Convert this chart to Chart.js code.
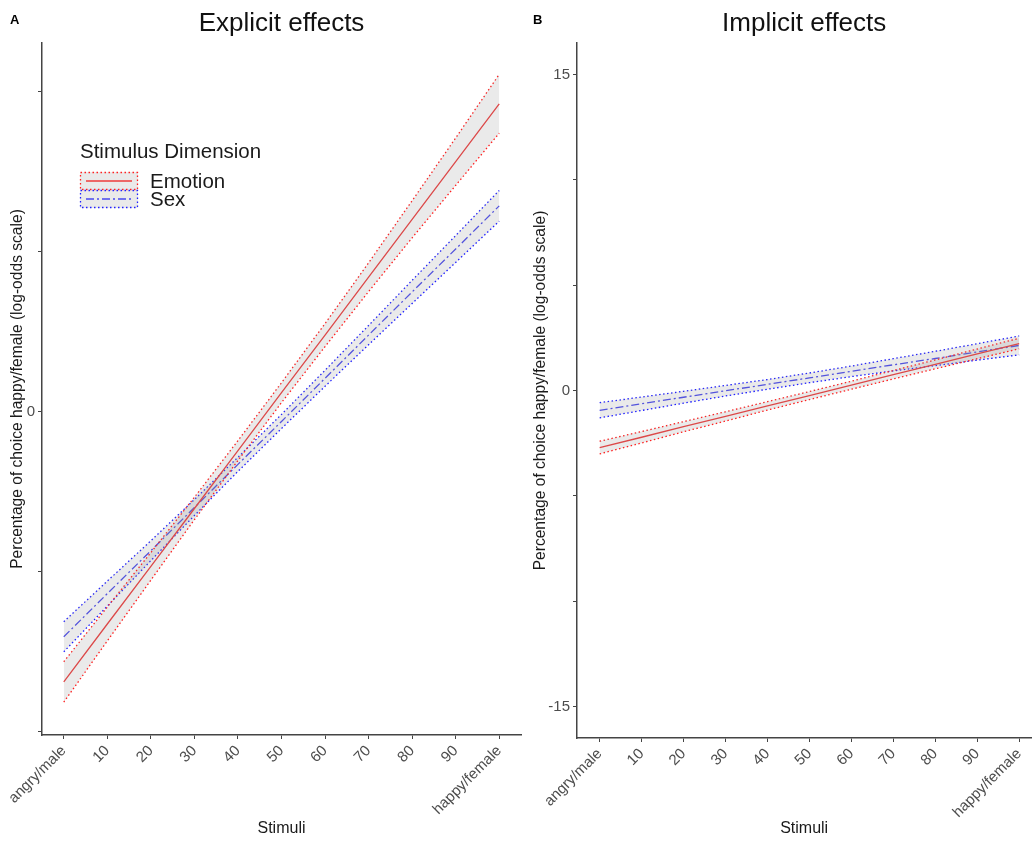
<!DOCTYPE html>
<html>
<head>
<meta charset="utf-8">
<script src="https://cdn.jsdelivr.net/npm/chart.js@4/dist/chart.umd.min.js"></script>
<style>
  body { margin: 0; background: #fff; font-family: "Liberation Sans", Arial, sans-serif; }
  #wrap { position: relative; width: 1035px; height: 842px; overflow: hidden; }
  canvas { position: absolute; top: 0; }
  .tag { position: absolute; top: 12px; font-weight: bold; font-size: 13px; color: #000; }
</style>
</head>
<body>
<div id="wrap">
  <canvas id="left" width="530" height="842" style="left:0"></canvas>
  <canvas id="right" width="505" height="842" style="left:530px"></canvas>
  <div class="tag" style="left:10px">A</div>
  <div class="tag" style="left:533px">B</div>
</div>
<script>
var stimuli = [0, 10, 20, 30, 40, 50, 60, 70, 80, 90, 100];
var stimulusLabels = ['angry/male', '10', '20', '30', '40', '50', '60', '70', '80', '90', 'happy/female'];

// explicit effects (log-odds)
var explicitEmotion = [-8.44, -6.63, -4.83, -3.02, -1.21, 0.60, 2.40, 4.21, 6.02, 7.82, 9.63];
var explicitEmotionLo = [-9.07, -7.16, -5.26, -3.37, -1.52, 0.29, 2.04, 3.76, 5.44, 7.08, 8.71];
var explicitEmotionHi = [-7.81, -6.10, -4.40, -2.67, -0.90, 0.91, 2.76, 4.66, 6.60, 8.56, 10.55];
var explicitSex = [-7.03, -5.68, -4.34, -2.99, -1.64, -0.30, 1.05, 2.40, 3.75, 5.09, 6.44];
var explicitSexLo = [-7.50, -6.07, -4.65, -3.24, -1.86, -0.52, 0.80, 2.10, 3.39, 4.67, 5.96];
var explicitSexHi = [-6.56, -5.29, -4.03, -2.74, -1.42, -0.08, 1.30, 2.70, 4.11, 5.51, 6.92];

// implicit effects (log-odds)
var implicitEmotion = [-2.71, -2.22, -1.72, -1.23, -0.73, -0.24, 0.25, 0.75, 1.24, 1.74, 2.23];
var implicitEmotionLo = [-3.01, -2.49, -1.96, -1.45, -0.93, -0.43, 0.06, 0.55, 1.03, 1.51, 1.98];
var implicitEmotionHi = [-2.41, -1.95, -1.48, -1.01, -0.53, -0.05, 0.44, 0.95, 1.45, 1.97, 2.48];
var implicitSex = [-0.94, -0.63, -0.32, -0.01, 0.29, 0.60, 0.91, 1.22, 1.52, 1.83, 2.14];
var implicitSexLo = [-1.30, -0.95, -0.60, -0.26, 0.06, 0.37, 0.66, 0.93, 1.18, 1.44, 1.69];
var implicitSexHi = [-0.58, -0.31, -0.04, 0.24, 0.52, 0.83, 1.16, 1.51, 1.86, 2.22, 2.59];

var explicitTicks = [-10, -5, 0, 5, 10];
var implicitTicks = [-15, -10, -5, 0, 5, 10, 15];

var FONT = '"Liberation Sans", Arial, sans-serif';
var RED = '#ee3b3b', BLUE = '#4848ee', BAND = 'rgba(140,140,140,0.18)';
var CI_RED = '#ff2020', CI_BLUE = '#2020ff';
var SEX_DASH = [8, 3, 2, 3];

function pts(ys) {
    return stimuli.map(function (x, i) { return { x: x, y: ys[i] }; });
}

function series(fit, lo, hi, color, ciColor, dash) {
    return [
        { data: pts(lo), borderColor: ciColor, borderWidth: 1.3, borderDash: [1.5, 2.5], fill: '+1', backgroundColor: BAND },
        { data: pts(hi), borderColor: ciColor, borderWidth: 1.3, borderDash: [1.5, 2.5], fill: false },
        { data: pts(fit), borderColor: color, borderWidth: 1.3, borderDash: dash, fill: false }
    ];
}

var legendPlugin = {
    id: 'dimLegend',
    afterDatasetsDraw: function (chart) {
        var c = chart.ctx;
        c.save();
        c.fillStyle = '#1a1a1a';
        c.textBaseline = 'middle';
        c.font = '20.5px ' + FONT;
        c.fillText('Stimulus Dimension', 80, 152);
        var keys = [[RED, CI_RED, [], 'Emotion', 172], [BLUE, CI_BLUE, SEX_DASH, 'Sex', 190]];
        keys.forEach(function (k) {
            c.fillStyle = BAND;
            c.fillRect(80, k[4], 58, 18);
            c.setLineDash([1.5, 2.5]);
            c.lineWidth = 1.3;
            c.strokeStyle = k[1];
            c.strokeRect(80.5, k[4] + 0.5, 57, 17);
            c.setLineDash(k[2]);
            c.strokeStyle = k[0];
            c.beginPath();
            c.moveTo(86, k[4] + 9);
            c.lineTo(132, k[4] + 9);
            c.stroke();
            c.setLineDash([]);
            c.fillStyle = '#1a1a1a';
            c.font = '20.5px ' + FONT;
            c.fillText(k[3], 150, k[4] + 10);
        });
        c.restore();
    }
};

function makeChart(id, title, datasets, yMin, yMax, yTicks, yShown, yWidth, xMin, xMax, xHeight, padRight, yTitlePad, plugins) {
    return new Chart(document.getElementById(id).getContext('2d'), {
        type: 'line',
        data: { datasets: datasets },
        plugins: plugins,
        options: {
            responsive: false,
            animation: false,
            layout: { padding: { left: 0, right: padRight, top: 0, bottom: 0 } },
            elements: { point: { radius: 0 }, line: { tension: 0 } },
            plugins: {
                legend: { display: false },
                tooltip: { enabled: false },
                title: {
                    display: true, text: title, fullSize: false,
                    color: '#111', font: { family: FONT, size: 26, weight: 'normal' },
                    padding: { top: 8, bottom: 3.8 }
                }
            },
            scales: {
                x: {
                    type: 'linear', min: xMin, max: xMax,
                    afterBuildTicks: function (s) { s.ticks = stimuli.map(function (v) { return { value: v }; }); },
                    afterFit: function (s) { s.height = xHeight; },
                    ticks: {
                        autoSkip: false, minRotation: 45, maxRotation: 45, padding: 3,
                        color: '#4d4d4d', font: { family: FONT, size: 15 },
                        callback: function (v) { return stimulusLabels[stimuli.indexOf(v)]; }
                    },
                    grid: { drawOnChartArea: false, tickLength: 4, color: '#444' },
                    border: { color: '#444', width: 1.5 },
                    title: {
                        display: true, text: 'Stimuli', color: '#1a1a1a',
                        font: { family: FONT, size: 16 }, padding: { top: 0, bottom: 3.4 }
                    }
                },
                y: {
                    type: 'linear', min: yMin, max: yMax,
                    afterBuildTicks: function (s) { s.ticks = yTicks.map(function (v) { return { value: v }; }); },
                    afterFit: function (s) { s.width = yWidth; },
                    ticks: {
                        padding: 3, color: '#4d4d4d', font: { family: FONT, size: 15 },
                        callback: function (v) { return yShown.indexOf(v) >= 0 ? String(v) : ''; }
                    },
                    grid: { drawOnChartArea: false, tickLength: 4, color: '#444' },
                    border: { color: '#444', width: 1.5 },
                    title: {
                        display: true, text: 'Percentage of choice happy/female (log-odds scale)',
                        color: '#1a1a1a', font: { family: FONT, size: 15.6 },
                        padding: { top: yTitlePad, bottom: 0 }
                    }
                }
            }
        }
    });
}

window.onload = function () {
    var leftSets = series(explicitEmotion, explicitEmotionLo, explicitEmotionHi, RED, CI_RED, [])
        .concat(series(explicitSex, explicitSexLo, explicitSexHi, BLUE, CI_BLUE, SEX_DASH));
    window.ExplicitChart = makeChart('left', 'Explicit effects', leftSets,
        -10.1, 11.53, explicitTicks, [0], 42, -5, 105, 107, 9, 8, [legendPlugin]);

    var rightSets = series(implicitEmotion, implicitEmotionLo, implicitEmotionHi, RED, CI_RED, [])
        .concat(series(implicitSex, implicitSexLo, implicitSexHi, BLUE, CI_BLUE, SEX_DASH));
    window.ImplicitChart = makeChart('right', 'Implicit effects', rightSets,
        -16.5, 16.5, implicitTicks, [-15, 0, 15], 47, -5.4, 102.9, 104, 0, 1.4, []);
};
</script>
</body>
</html>
